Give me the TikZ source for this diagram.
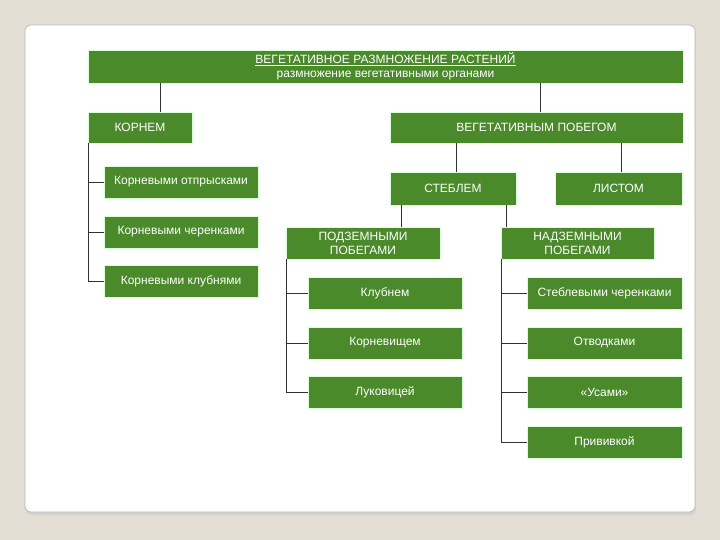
\documentclass[tikz,border=0pt]{standalone}
\usepackage{fontspec}
\setmainfont{Liberation Sans}
\usetikzlibrary{positioning,calc}

\definecolor{bgbeige}{RGB}{227,222,211}
\definecolor{boxgreen}{RGB}{74,138,42}
\definecolor{linegray}{RGB}{50,50,50}

\begin{document}
\begin{tikzpicture}[
  x=1pt, y=-1pt,
  box/.style={
    fill=boxgreen, draw=green!15!white, line width=0.6pt,
    align=center, text=white, inner sep=1pt,
    font=\fontsize{12}{14}\selectfont
  },
  conn/.style={draw=linegray, line width=0.8pt}
]

% --- fond et panneau
\useasboundingbox[fill=bgbeige] (0,0) rectangle (720,540);
\fill[gray!35, rounded corners=6pt] (26,28) rectangle (696,515);
\filldraw[fill=white, draw=gray!55, line width=0.7pt, rounded corners=6pt] (25,25) rectangle (695,512);

% --- titre
\node[box, minimum width=595, minimum height=33] (top) at (385.5,66.5)
  {\underline{ВЕГЕТАТИВНОЕ РАЗМНОЖЕНИЕ РАСТЕНИЙ}\\размножение вегетативными органами};

% --- premier niveau
\node[box, minimum width=104, minimum height=31] (koren)  at (140,127.5)   {КОРНЕМ};
\node[box, minimum width=293, minimum height=31] (vegpob) at (536.5,127.5) {ВЕГЕТАТИВНЫМ ПОБЕГОМ};

% --- par la racine
\node[box, minimum width=154, minimum height=32] (k1) at (181,182)   {Корневыми отпрысками};
\node[box, minimum width=154, minimum height=32] (k2) at (181,232)   {Корневыми черенками};
\node[box, minimum width=154, minimum height=32] (k3) at (181,281.5) {Корневыми клубнями};

% --- tige et feuille
\node[box, minimum width=126, minimum height=33] (stebl) at (453,188.5)   {СТЕБЛЕМ};
\node[box, minimum width=127, minimum height=33] (list)  at (618.5,188.5) {ЛИСТОМ};

\node[box, minimum width=154, minimum height=32] (podz) at (363,243)   {ПОДЗЕМНЫМИ\\ПОБЕГАМИ};
\node[box, minimum width=153, minimum height=32] (nadz) at (577.5,243) {НАДЗЕМНЫМИ\\ПОБЕГАМИ};

% --- pousses souterraines
\node[box, minimum width=154, minimum height=32] (p1) at (385,293) {Клубнем};
\node[box, minimum width=154, minimum height=32] (p2) at (385,343) {Корневищем};
\node[box, minimum width=154, minimum height=32] (p3) at (385,392) {Луковицей};

% --- pousses aériennes
\node[box, minimum width=155, minimum height=32] (n1) at (604.5,293) {Стеблевыми черенками};
\node[box, minimum width=155, minimum height=32] (n2) at (604.5,343) {Отводками};
\node[box, minimum width=155, minimum height=32] (n3) at (604.5,392) {«Усами»};
\node[box, minimum width=155, minimum height=32] (n4) at (604.5,442) {Прививкой};

% --- liaisons verticales
\coordinate (kup) at ($(koren.north)+(20,0)$);
\draw[conn] (kup) -- (kup |- top.south);
\coordinate (vup) at ($(vegpob.north)+(4,0)$);
\draw[conn] (vup) -- (vup |- top.south);
\coordinate (sup1) at ($(stebl.north)+(3,0)$);
\draw[conn] (sup1) -- (sup1 |- vegpob.south);
\coordinate (lup) at ($(list.north)+(3,0)$);
\draw[conn] (lup) -- (lup |- vegpob.south);
\coordinate (pup) at ($(stebl.south west)+(12,0)$);
\draw[conn] (pup) -- (pup |- podz.north);
\coordinate (nup) at ($(stebl.south east)+(-10,0)$);
\draw[conn] (nup) -- (nup |- nadz.north);

% --- branches
\foreach \n in {k1,k2,k3}
  \draw[conn] ($(koren.south west)+(1,0)$) |- (\n.west);
\foreach \n in {p1,p2,p3}
  \draw[conn] ($(podz.south west)+(1,0)$) |- (\n.west);
\foreach \n in {n1,n2,n3,n4}
  \draw[conn] ($(nadz.south west)+(1,0)$) |- (\n.west);

\end{tikzpicture}
\end{document}
